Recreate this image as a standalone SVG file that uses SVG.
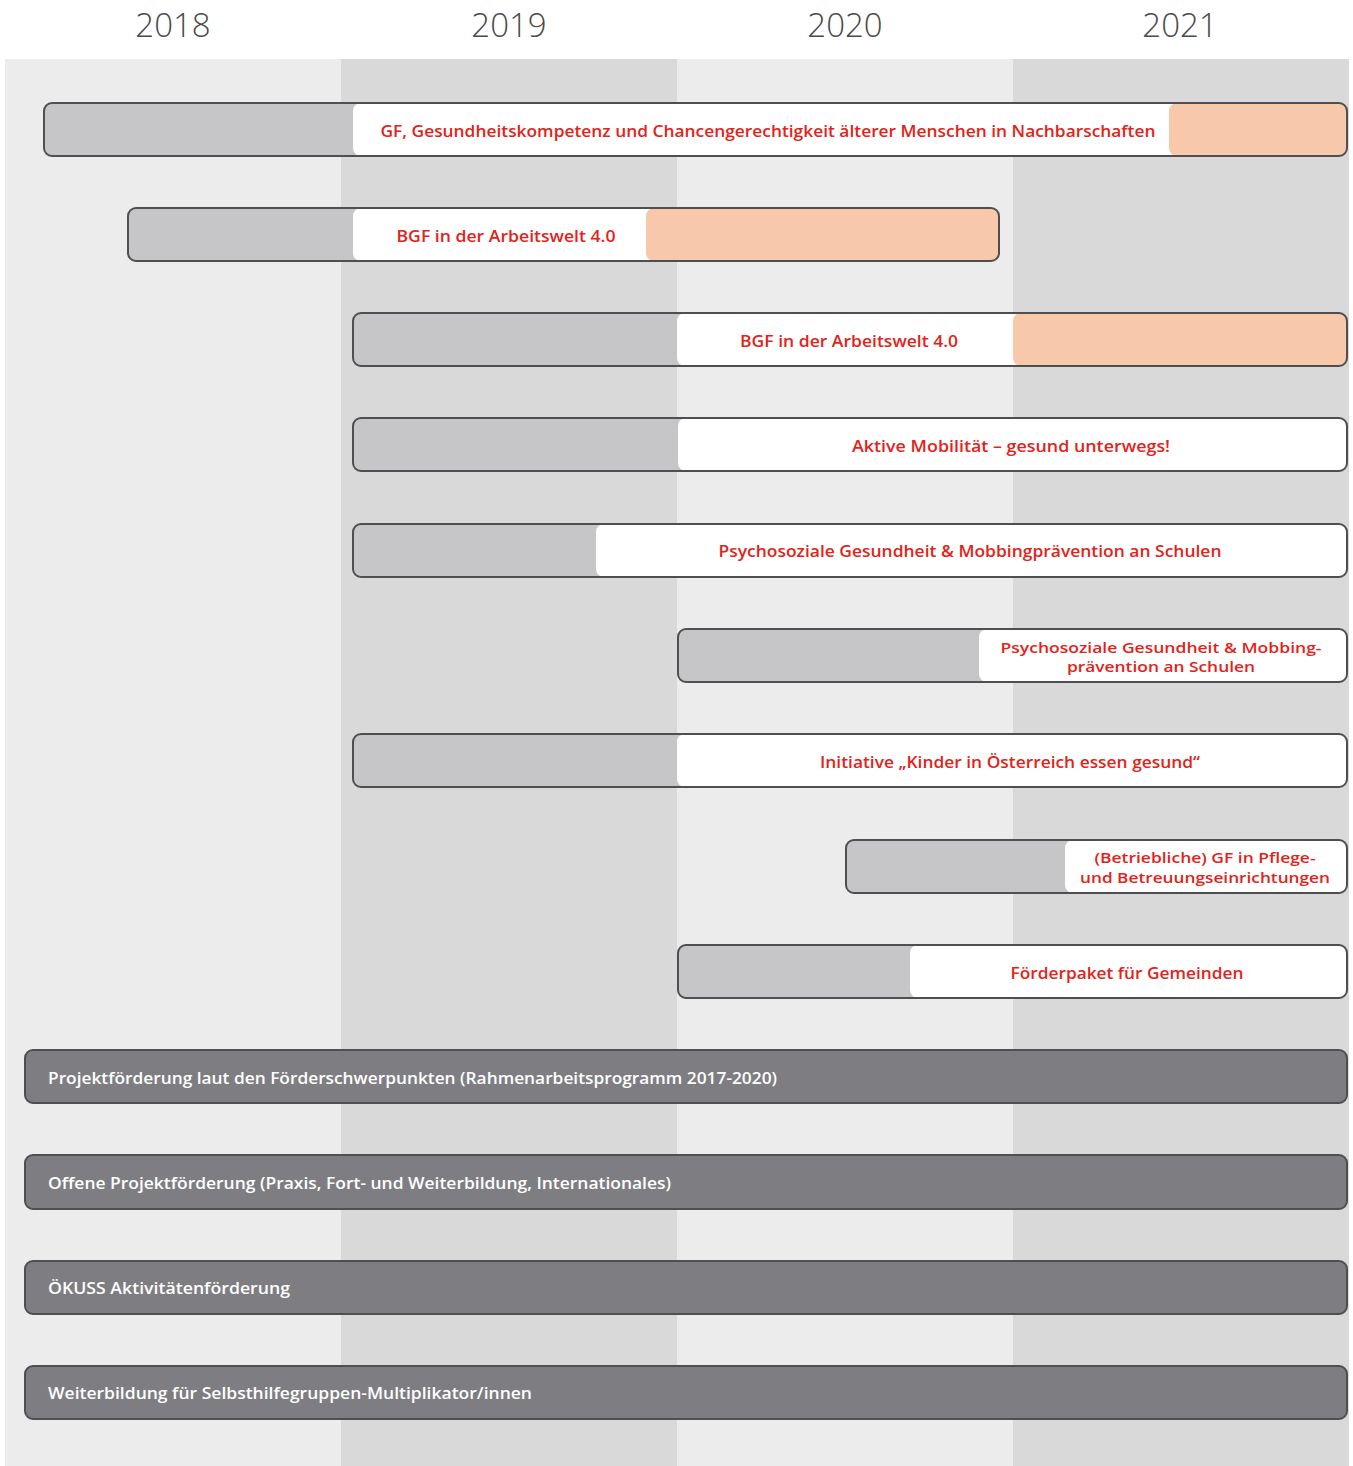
<svg xmlns="http://www.w3.org/2000/svg" width="1353" height="1466" viewBox="0 0 1353 1466">
<style>
.yr{font-family:"Open Sans","Liberation Sans",sans-serif;font-size:33px;font-weight:300;fill:#4a4a4a;text-anchor:middle}
.lbl{font-family:"Open Sans","Liberation Sans",sans-serif;font-size:17px;font-weight:600;fill:#e2231a;text-anchor:middle}
.sm{font-size:15px}
.wl{font-family:"Open Sans","Liberation Sans",sans-serif;font-size:17px;font-weight:600;fill:#ffffff}
.g{fill:#c6c6c8}
.w{fill:#ffffff}
.p{fill:#f7c8a9}
.o{fill:none;stroke:#4f4f52;stroke-width:2}
.d{fill:#7e7e82;stroke:#4f4f52;stroke-width:2}
</style>
<rect x="0" y="0" width="1353" height="1466" fill="#ffffff"/>
<g id="background">
<rect x="5" y="59" width="336" height="1407" fill="#ececec"/>
<rect x="341" y="59" width="336" height="1407" fill="#d9d9d9"/>
<rect x="677" y="59" width="336" height="1407" fill="#ececec"/>
<rect x="1013" y="59" width="336" height="1407" fill="#d9d9d9"/>
</g>
<g id="years">
<text class="yr" x="173" y="37">2018</text>
<text class="yr" x="509" y="37">2019</text>
<text class="yr" x="845" y="37">2020</text>
<text class="yr" x="1180" y="37">2021</text>
</g>
<g id="connectors"></g>
<g id="bar1">
<rect class="g" x="44" y="103" width="1303" height="53" rx="8"/>
<rect class="w" x="353" y="103" width="994" height="53" rx="8"/>
<rect class="p" x="1169" y="103" width="178" height="53" rx="8"/>
<rect class="o" x="44" y="103" width="1303" height="53" rx="8"/>
<text class="lbl" x="768" y="137" textLength="775" lengthAdjust="spacingAndGlyphs">GF, Gesundheitskompetenz und Chancengerechtigkeit  älterer Menschen in Nachbarschaften</text>
</g>
<g id="bar2">
<rect class="g" x="128" y="208" width="871" height="53" rx="8"/>
<rect class="w" x="353" y="208" width="646" height="53" rx="8"/>
<rect class="p" x="646" y="208" width="353" height="53" rx="8"/>
<rect class="o" x="128" y="208" width="871" height="53" rx="8"/>
<text class="lbl" x="506" y="242" textLength="219" lengthAdjust="spacingAndGlyphs">BGF in der Arbeitswelt 4.0</text>
</g>
<g id="bar3">
<rect class="g" x="353" y="313" width="994" height="53" rx="8"/>
<rect class="w" x="677" y="313" width="670" height="53" rx="8"/>
<rect class="p" x="1013" y="313" width="334" height="53" rx="8"/>
<rect class="o" x="353" y="313" width="994" height="53" rx="8"/>
<text class="lbl" x="849" y="347" textLength="218" lengthAdjust="spacingAndGlyphs">BGF in der Arbeitswelt 4.0</text>
</g>
<g id="bar4">
<rect class="g" x="353" y="418" width="994" height="53" rx="8"/>
<rect class="w" x="678" y="418" width="669" height="53" rx="8"/>
<rect class="o" x="353" y="418" width="994" height="53" rx="8"/>
<text class="lbl" x="1011" y="452" textLength="318" lengthAdjust="spacingAndGlyphs">Aktive Mobilität – gesund unterwegs!</text>
</g>
<g id="bar5">
<rect class="g" x="353" y="524" width="994" height="53" rx="8"/>
<rect class="w" x="596" y="524" width="751" height="53" rx="8"/>
<rect class="o" x="353" y="524" width="994" height="53" rx="8"/>
<text class="lbl" x="970" y="557" textLength="503" lengthAdjust="spacingAndGlyphs">Psychosoziale Gesundheit &amp; Mobbingprävention an Schulen</text>
</g>
<g id="bar6">
<rect class="g" x="678" y="629" width="669" height="53" rx="8"/>
<rect class="w" x="979" y="629" width="368" height="53" rx="8"/>
<rect class="o" x="678" y="629" width="669" height="53" rx="8"/>
<text class="lbl sm" x="1161" y="653" textLength="321" lengthAdjust="spacingAndGlyphs">Psychosoziale Gesundheit &amp; Mobbing-</text>
<text class="lbl sm" x="1161" y="672" textLength="188" lengthAdjust="spacingAndGlyphs">prävention an Schulen</text>
</g>
<g id="bar7">
<rect class="g" x="353" y="734" width="994" height="53" rx="8"/>
<rect class="w" x="677" y="734" width="670" height="53" rx="8"/>
<rect class="o" x="353" y="734" width="994" height="53" rx="8"/>
<text class="lbl" x="1010" y="768" textLength="380" lengthAdjust="spacingAndGlyphs">Initiative „Kinder in Österreich essen gesund“</text>
</g>
<g id="bar8">
<rect class="g" x="846" y="840" width="501" height="53" rx="8"/>
<rect class="w" x="1065" y="840" width="282" height="53" rx="8"/>
<rect class="o" x="846" y="840" width="501" height="53" rx="8"/>
<text class="lbl sm" x="1205" y="863" textLength="221" lengthAdjust="spacingAndGlyphs">(Betriebliche) GF in Pflege-</text>
<text class="lbl sm" x="1205" y="883" textLength="250" lengthAdjust="spacingAndGlyphs">und Betreuungseinrichtungen</text>
</g>
<g id="bar9">
<rect class="g" x="678" y="945" width="669" height="53" rx="8"/>
<rect class="w" x="910" y="945" width="437" height="53" rx="8"/>
<rect class="o" x="678" y="945" width="669" height="53" rx="8"/>
<text class="lbl" x="1127" y="979" textLength="233" lengthAdjust="spacingAndGlyphs">Förderpaket für Gemeinden</text>
</g>
<g id="bar10">
<rect class="d" x="25" y="1050" width="1322" height="53" rx="8"/>
<text class="wl" x="48" y="1084" textLength="729" lengthAdjust="spacingAndGlyphs">Projektförderung laut den Förderschwerpunkten (Rahmenarbeitsprogramm 2017-2020)</text>
</g>
<g id="bar11">
<rect class="d" x="25" y="1155" width="1322" height="54" rx="8"/>
<text class="wl" x="48" y="1189" textLength="623" lengthAdjust="spacingAndGlyphs">Offene Projektförderung (Praxis, Fort- und Weiterbildung, Internationales)</text>
</g>
<g id="bar12">
<rect class="d" x="25" y="1261" width="1322" height="53" rx="8"/>
<text class="wl" x="48" y="1294" textLength="242" lengthAdjust="spacingAndGlyphs">ÖKUSS Aktivitätenförderung</text>
</g>
<g id="bar13">
<rect class="d" x="25" y="1366" width="1322" height="53" rx="8"/>
<text class="wl" x="48" y="1399" textLength="484" lengthAdjust="spacingAndGlyphs">Weiterbildung für Selbsthilfegruppen-Multiplikator/innen</text>
</g>
</svg>
